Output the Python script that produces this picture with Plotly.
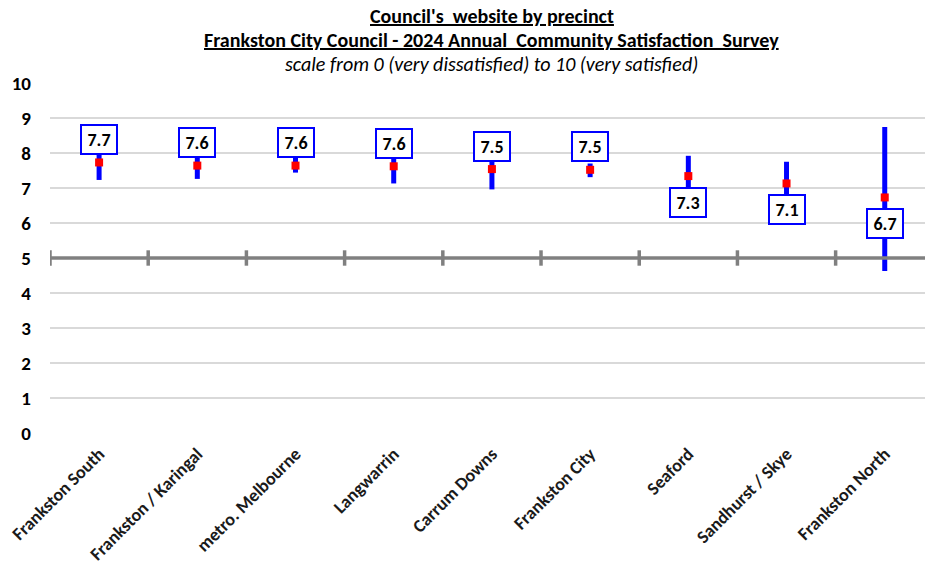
import plotly.graph_objects as go

categories = ["Frankston South", "Frankston / Karingal", "metro. Melbourne", "Langwarrin",
              "Carrum Downs", "Frankston City", "Seaford", "Sandhurst / Skye", "Frankston North"]
means = [7.73, 7.64, 7.64, 7.62, 7.54, 7.52, 7.34, 7.13, 6.73]
upper = [8.20, 8.06, 7.86, 8.10, 8.14, 7.70, 7.92, 7.75, 8.74]
lower = [7.23, 7.26, 7.44, 7.13, 6.96, 7.31, 6.80, 6.53, 4.63]
y_ticks = [0, 1, 2, 3, 4, 5, 6, 7, 8, 9, 10]
reference_line = 5
labels_below = {"Seaford", "Sandhurst / Skye", "Frankston North"}

FONT = "Carlito, Lato, sans-serif"
BLUE = "#0000ff"
idx = list(range(len(categories)))

fig = go.Figure()

# reference line at 5 with tick marks at category boundaries
fig.add_shape(type="line", xref="x", yref="y", x0=-0.5, x1=8.6,
              y0=reference_line, y1=reference_line,
              line=dict(color="#808080", width=3.5), layer="above")
fig.add_trace(go.Scatter(
    x=[i - 0.5 for i in idx], y=[reference_line] * len(idx), mode="markers",
    marker=dict(symbol="line-ns", size=11, line=dict(color="#808080", width=3.5)),
    hoverinfo="skip", showlegend=False))

fig.add_trace(go.Scatter(
    x=idx, y=means, mode="markers",
    marker=dict(symbol="square", size=8, color="#ff0000"),
    error_y=dict(type="data", symmetric=False,
                 array=[u - m for u, m in zip(upper, means)],
                 arrayminus=[m - l for m, l in zip(means, lower)],
                 color=BLUE, thickness=5, width=0),
    showlegend=False))

for i, (c, m) in enumerate(zip(categories, means)):
    below = c in labels_below
    fig.add_annotation(
        x=i, y=m, xref="x", yref="y", text=f"<b>{m:.1f}</b>", showarrow=False,
        yshift=-26 if below else 23,
        font=dict(family=FONT, size=18, color="black"),
        bgcolor="white", bordercolor=BLUE, borderwidth=2, borderpad=3,
        width=28, height=21)

# title lines
title_lines = [
    ("<b><u>Council's  website by precinct</u></b>", 67),
    ("<b><u>Frankston City Council - 2024 Annual  Community Satisfaction  Survey</u></b>", 43),
    ("<i>scale from 0 (very dissatisfied) to 10 (very satisfied)</i>", 19),
]
for txt, ys in title_lines:
    fig.add_annotation(x=4, xref="x", y=1, yref="paper", yanchor="middle", yshift=ys,
                       text=txt, showarrow=False,
                       font=dict(family=FONT, size=20, color="black"))

fig.update_layout(
    width=925, height=564,
    margin=dict(l=50, r=0, t=83, b=131),
    plot_bgcolor="white", paper_bgcolor="white",
    font=dict(family=FONT, color="black"),
    xaxis=dict(range=[-0.5, 8.41], tickmode="array", tickvals=idx, ticktext=categories,
               tickangle=-45, showgrid=False, zeroline=False, showline=False, ticks="",
               ticklabelstandoff=6,
               tickfont=dict(family=FONT, size=18, weight="bold", color="#1a1a1a")),
    yaxis=dict(range=[0, 10], tickvals=y_ticks, showgrid=True, gridcolor="#d9d9d9", gridwidth=1.5,
               zeroline=False, showline=False, ticks="", ticklabelstandoff=18,
               tickfont=dict(family=FONT, size=19, weight="bold", color="black")),
)

fig.write_html("out.html", config={"displayModeBar": False},
               post_script="document.body.style.margin='0';")
